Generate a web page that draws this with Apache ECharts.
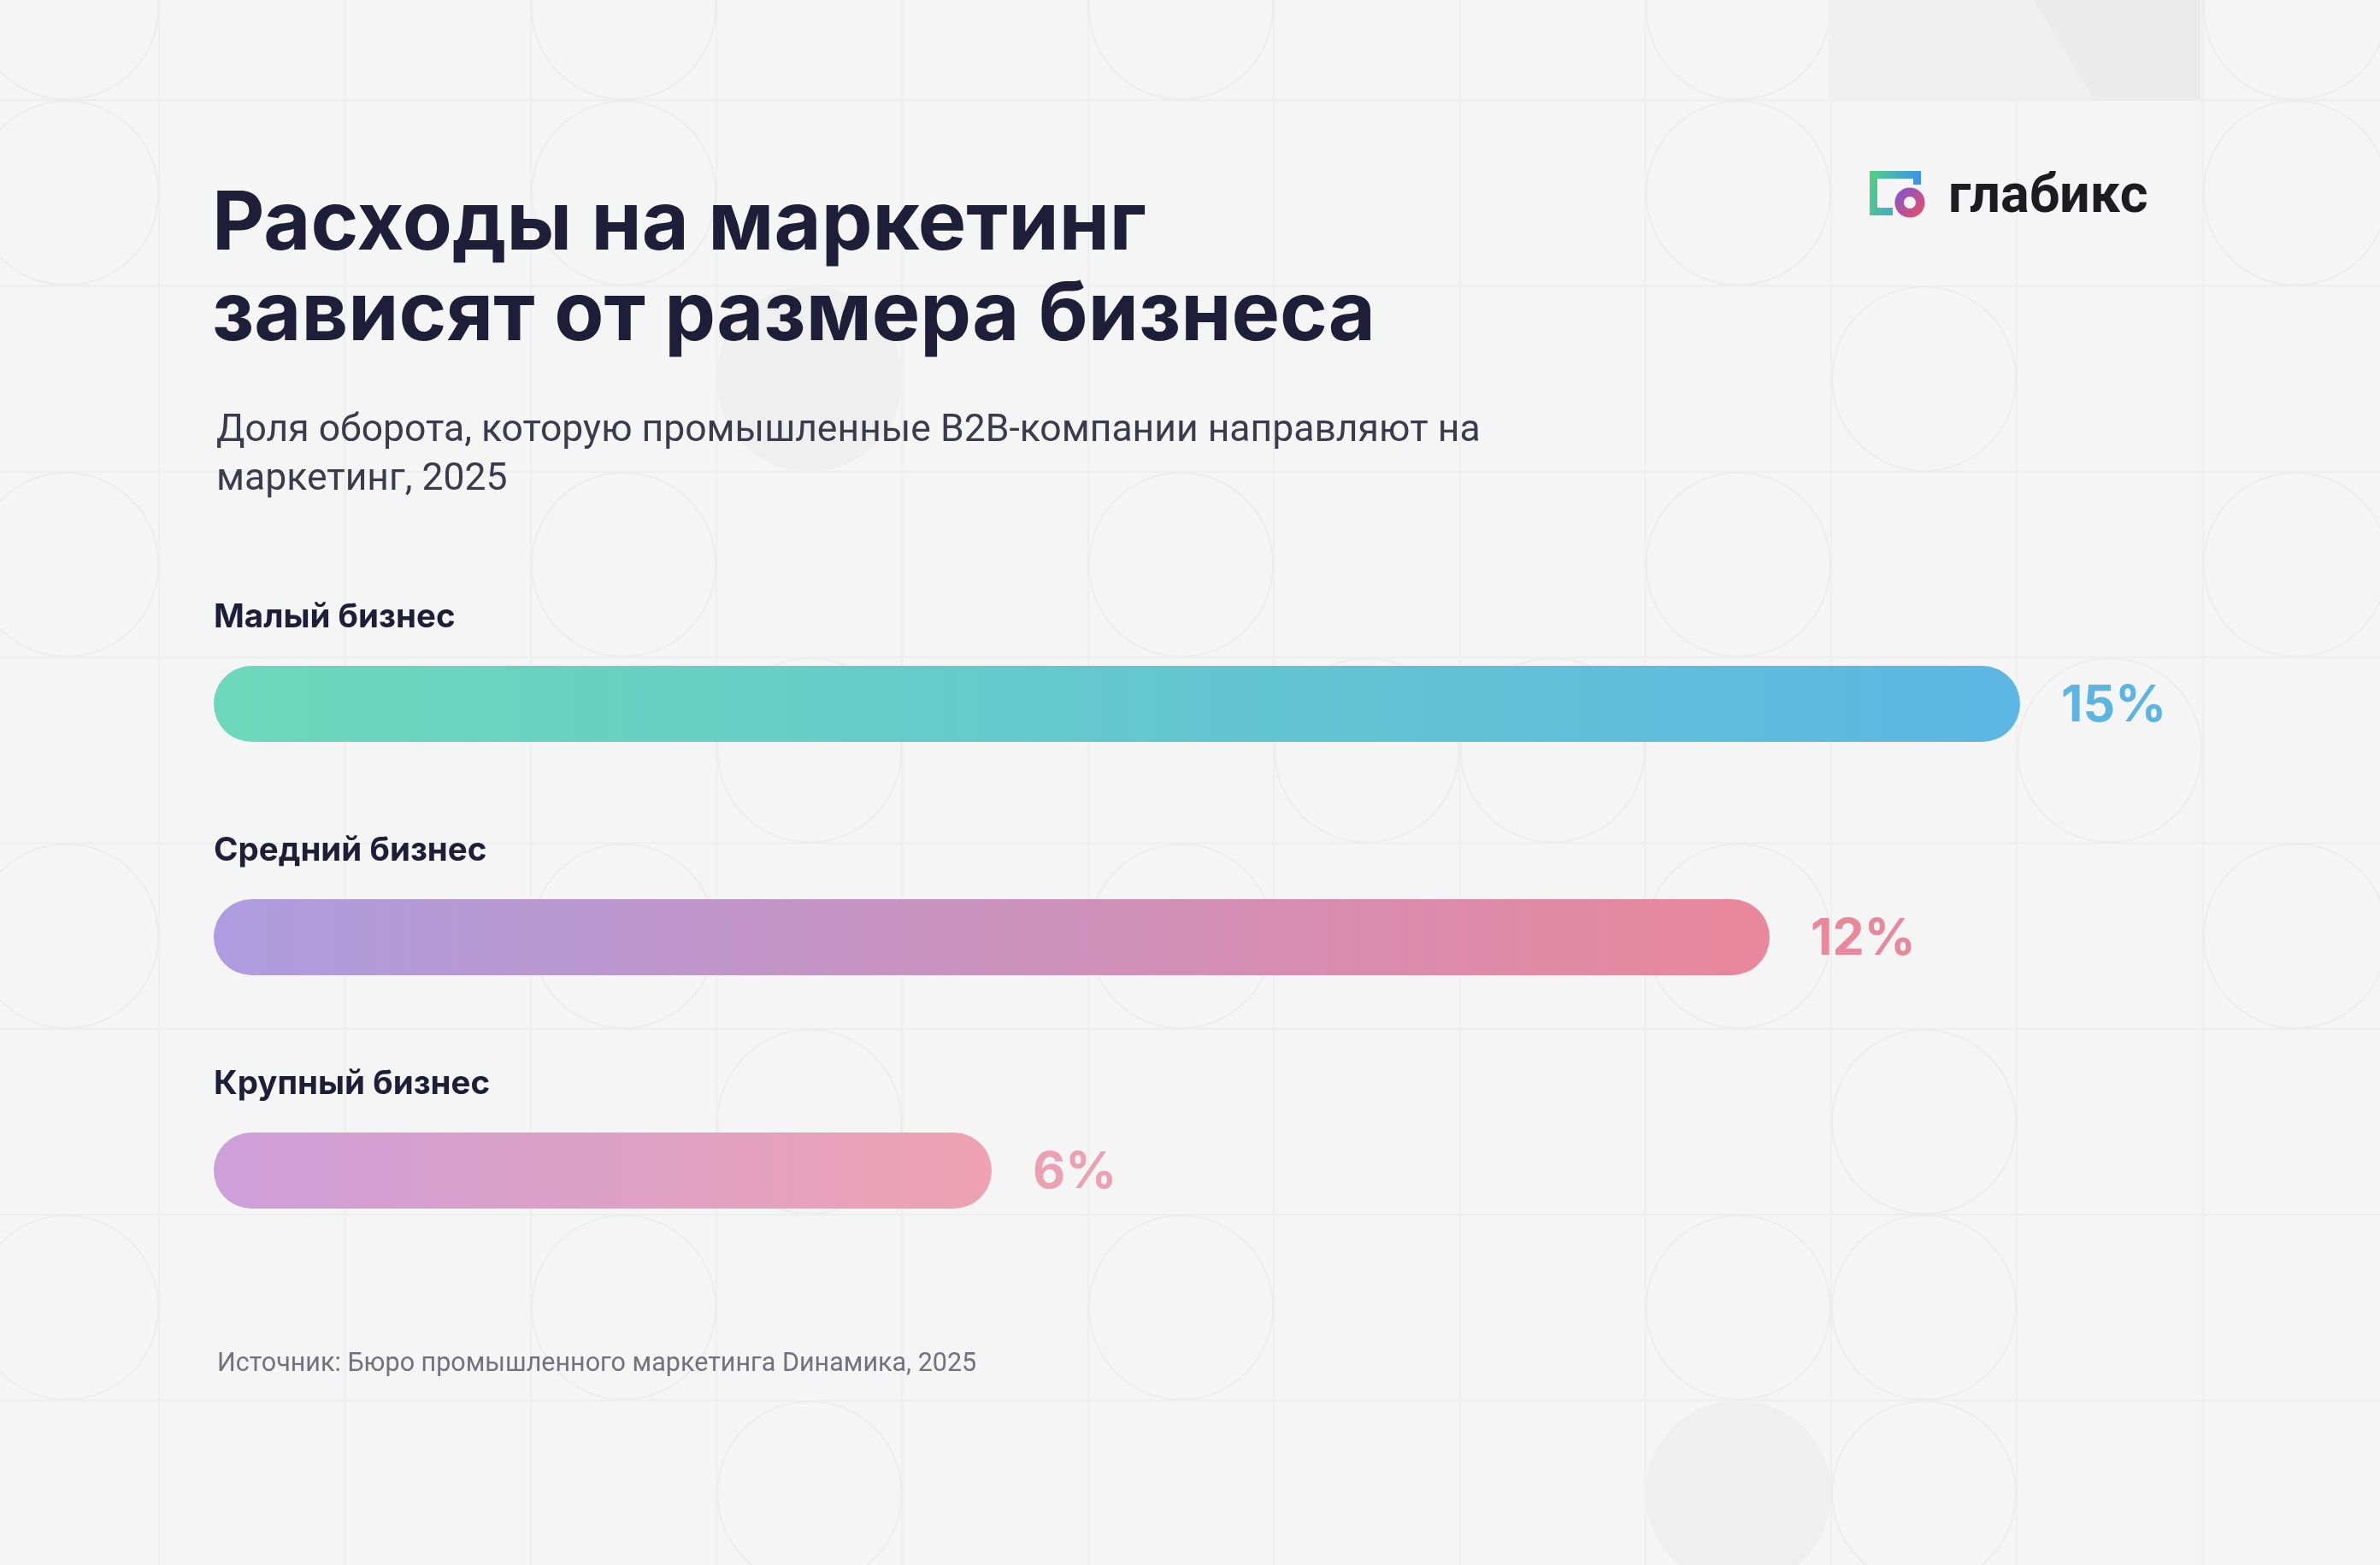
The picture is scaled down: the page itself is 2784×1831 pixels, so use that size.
<!DOCTYPE html>
<html>
<head>
<meta charset="utf-8">
<style>
  html, body { margin: 0; padding: 0; background: #f5f5f5; }
  #chart { width: 2784px; height: 1831px; }
</style>
<script src="https://cdn.jsdelivr.net/npm/echarts@6/dist/echarts.min.js"></script>
</head>
<body>
<div id="chart"></div>
<script>
// данные
const categories = ['Малый бизнес', 'Средний бизнес', 'Крупный бизнес'];
const shares = [15, 12, 6];
const barColors = [['#6dd8b9', '#5db6e3'], ['#ad9de0', '#e9879c'], ['#cd9fd9', '#eea2b2']];
const labelColors = ['#5cb5e1', '#e9879d', '#eca0b3'];

const titleText = 'Расходы на маркетинг\nзависят от размера бизнеса';
const subtitleText = 'Доля оборота, которую промышленные B2B-компании направляют на\nмаркетинг, 2025';
const sourceText = 'Источник: Бюро промышленного маркетинга Dинамика, 2025';

// фон: сетка с кругами
const CELL = 217.3, OX = -31, OY = -100;
const ringCells = [[0,0],[3,0],[6,0],[9,0],[12,0],[0,1],[3,1],[9,1],[12,1],[10,2],
  [0,3],[3,3],[6,3],[9,3],[12,3],[4,4],[7,4],[8,4],[11,4],[0,5],[3,5],[6,5],[9,5],[12,5],
  [4,6],[10,6],[0,7],[3,7],[6,7],[9,7],[10,7],[4,8],[10,8]];
const discCells = [[4,2],[9,8]];

const bg = [];
for (let r = 1; r <= 8; r++) {
  bg.push({ type: 'line', z: -10, silent: true,
    shape: { x1: 0, y1: OY + CELL * r, x2: 2784, y2: OY + CELL * r },
    style: { stroke: '#ededed', lineWidth: 2 } });
}
for (let c = 1; c <= 12; c++) {
  bg.push({ type: 'line', z: -10, silent: true,
    shape: { x1: OX + CELL * c, y1: 0, x2: OX + CELL * c, y2: 1831 },
    style: { stroke: '#eeeeee', lineWidth: 2 } });
}
discCells.forEach(([c, r]) => bg.push({ type: 'circle', z: -10, silent: true,
  shape: { cx: OX + CELL * (c + 0.5), cy: OY + CELL * (r + 0.5), r: CELL / 2 },
  style: { fill: '#efefef' } }));
ringCells.forEach(([c, r]) => bg.push({ type: 'circle', z: -10, silent: true,
  shape: { cx: OX + CELL * (c + 0.5), cy: OY + CELL * (r + 0.5), r: CELL / 2 - 1 },
  style: { fill: 'none', stroke: '#ececec', lineWidth: 2 } }));
// серый блок справа сверху
bg.push({ type: 'rect', z: -9, silent: true,
  shape: { x: 2139, y: 0, width: 435, height: 117 }, style: { fill: '#f0f0f0' } });
bg.push({ type: 'polygon', z: -9, silent: true,
  shape: { points: [[2379, 0], [2574, 0], [2574, 117], [2450, 117]] }, style: { fill: '#ebebeb' } });

// логотип
const logo = [
  { type: 'polyline', z: 10, silent: true,
    shape: { points: [[2214, 247.5], [2191.5, 247.5], [2191.5, 204.5], [2242.5, 204.5], [2242.5, 216]] },
    style: { fill: 'none', lineWidth: 9, lineJoin: 'miter',
      stroke: new echarts.graphic.LinearGradient(0, 0, 1, 0.3, [
        { offset: 0, color: '#52d27f' }, { offset: 1, color: '#3a8ff2' }]) } },
  { type: 'circle', z: 11, silent: true,
    shape: { cx: 2234, cy: 237, r: 12.3 },
    style: { fill: 'none', lineWidth: 10.5,
      stroke: new echarts.graphic.LinearGradient(0, 0, 1, 1, [
        { offset: 0, color: '#7a55d8' }, { offset: 1, color: '#ee4d5e' }]) } },
  { type: 'text', z: 10, silent: true, x: 2279, y: 232,
    style: { text: 'глабикс', fill: '#1d1d1f', font: 'bold 63px Roboto', verticalAlign: 'middle' } }
];

const chart = echarts.init(document.getElementById('chart'), null, { renderer: 'canvas' });

const option = {
  backgroundColor: '#f5f5f5',
  animation: false,
  title: [
    {
      text: titleText, left: 243, top: 205,
      textStyle: { fontFamily: 'Inter', fontWeight: 700, fontSize: 95, lineHeight: 106, color: '#1f1e38' }
    },
    {
      text: subtitleText, left: 248, top: 471,
      textStyle: { fontFamily: 'Roboto', fontWeight: 400, fontSize: 44.5, lineHeight: 57, color: '#3b3b4d' }
    },
    {
      text: sourceText, left: 249, top: 1576,
      textStyle: { fontFamily: 'Roboto', fontWeight: 400, fontSize: 30.5, color: '#72717e' }
    }
  ],
  graphic: bg.concat(logo),
  grid: { left: 250, width: 2113, top: 687, height: 819, containLabel: false },
  xAxis: {
    type: 'log', min: 3, max: 15, show: false
  },
  yAxis: {
    type: 'category', data: categories, inverse: true,
    axisLine: { show: false }, axisTick: { show: false }, splitLine: { show: false },
    axisLabel: {
      inside: true, margin: 0, verticalAlign: 'bottom', padding: [0, 0, 81, 0],
      fontFamily: 'Inter', fontWeight: 700, fontSize: 38.5, lineHeight: 40, color: '#1f1e38'
    }
  },
  series: [{
    type: 'bar',
    clip: true,
    barWidth: 89,
    data: shares.map((v, i) => ({
      value: v,
      itemStyle: {
        borderRadius: 44.5,
        color: new echarts.graphic.LinearGradient(0, 0, 1, 0, [
          { offset: 0, color: barColors[i][0] }, { offset: 1, color: barColors[i][1] }])
      },
      label: { color: labelColors[i] }
    })),
    label: {
      show: true, position: 'right', distance: 48, offset: [0, 3], formatter: '{c}%',
      fontFamily: 'Inter', fontWeight: 700, fontSize: 59
    }
  }]
};

chart.setOption(option);
</script>
</body>
</html>
